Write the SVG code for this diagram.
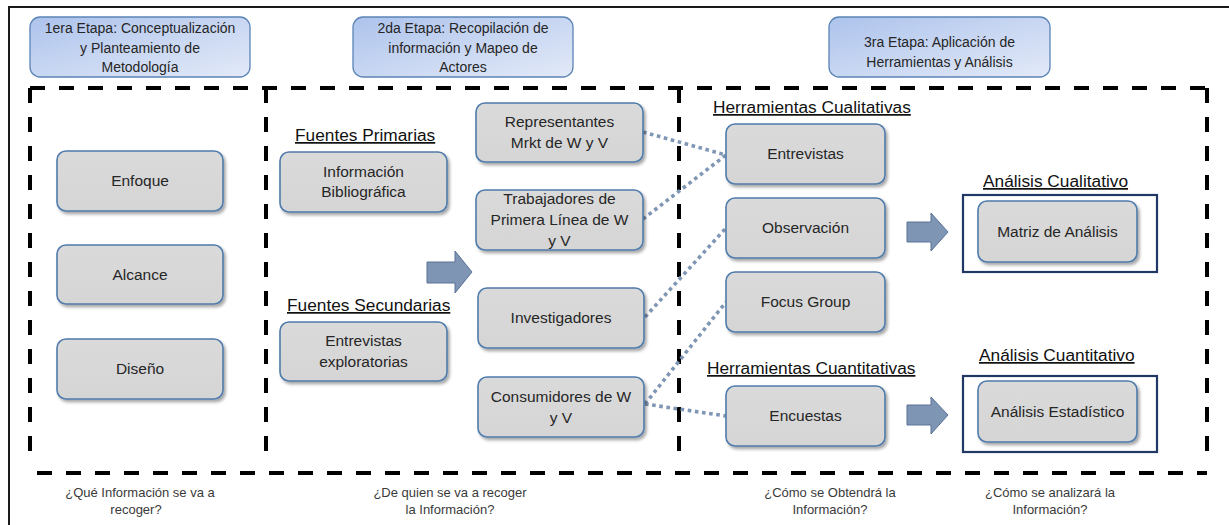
<svg xmlns="http://www.w3.org/2000/svg" width="1229" height="525" viewBox="0 0 1229 525">
  <defs>
    <linearGradient id="stageFill" x1="0" y1="0" x2="1" y2="1">
      <stop offset="0" stop-color="#adc3ec"/>
      <stop offset="1" stop-color="#e3eaf8"/>
    </linearGradient>
    <linearGradient id="nodeFill" x1="0" y1="0" x2="0" y2="1">
      <stop offset="0" stop-color="#dadada"/>
      <stop offset="1" stop-color="#d5d5d5"/>
    </linearGradient>
    <filter id="shadow" x="-10%" y="-15%" width="125%" height="140%">
      <feDropShadow dx="2" dy="2.5" stdDeviation="1.6" flood-color="#000" flood-opacity="0.35"/>
    </filter>
    <style>
      .frame { fill: none; stroke: #1a1a1a; stroke-width: 2; }
      .dash { fill: none; stroke: #000; stroke-width: 4; stroke-dasharray: 15 14; }
      .stage rect { fill: url(#stageFill); stroke: #5b84b6; stroke-width: 1.3; }
      .node rect { fill: url(#nodeFill); stroke: #4f7bab; stroke-width: 1.6; filter: url(#shadow); }
      .group-box { fill: none; stroke: #1f3864; stroke-width: 2.2; }
      text { font-family: "Liberation Sans", Arial, sans-serif; fill: #262626; }
      .stage text { font-size: 14px; text-anchor: middle; }
      .node text { font-size: 15.5px; text-anchor: middle; }
      .title { font-size: 17.3px; fill: #111; text-decoration: underline; }
      .question { font-size: 13px; text-anchor: middle; fill: #3a3a3a; }
      .link { fill: none; stroke: #7f96b4; stroke-width: 3.6; stroke-dasharray: 3.6 3.6; }
      .block-arrow { fill: #7e95b3; stroke: #5a7397; stroke-width: 1; }
    </style>
  </defs>

  <rect width="1229" height="525" fill="#ffffff"/>

  <!-- outer frame -->
  <path class="frame" d="M9,525 V7 H1229"/>

  <!-- dashed stage areas -->
  <g id="stage-areas">
    <line class="dash" x1="30" y1="88" x2="1207" y2="88"/>
    <line class="dash" x1="37" y1="473" x2="1207" y2="473"/>
    <line class="dash" x1="30" y1="88" x2="30" y2="462"/>
    <line class="dash" x1="266" y1="88" x2="266" y2="462"/>
    <line class="dash" x1="679" y1="88" x2="679" y2="462"/>
    <line class="dash" x1="1207" y1="88" x2="1207" y2="462"/>
  </g>

  <!-- stage headers -->
  <g id="stage-1" class="stage">
    <rect x="30" y="17" width="220" height="60" rx="10"/>
    <text x="140" y="33">1era Etapa: Conceptualización</text>
    <text x="140" y="53">y Planteamiento de</text>
    <text x="140" y="72">Metodología</text>
  </g>
  <g id="stage-2" class="stage">
    <rect x="353" y="17" width="220" height="60" rx="10"/>
    <text x="463" y="33">2da Etapa: Recopilación de</text>
    <text x="463" y="53">información y Mapeo de</text>
    <text x="463" y="72">Actores</text>
  </g>
  <g id="stage-3" class="stage">
    <rect x="829" y="17" width="221" height="60" rx="10"/>
    <text x="939.5" y="47">3ra Etapa: Aplicación de</text>
    <text x="939.5" y="67">Herramientas y Análisis</text>
  </g>

  <!-- section titles -->
  <g id="titles">
    <text class="title" x="295" y="141">Fuentes Primarias</text>
    <text class="title" x="287" y="311">Fuentes Secundarias</text>
    <text class="title" x="713" y="113">Herramientas Cualitativas</text>
    <text class="title" x="707" y="374">Herramientas Cuantitativas</text>
    <text class="title" x="983" y="187">Análisis Cualitativo</text>
    <text class="title" x="979" y="361">Análisis Cuantitativo</text>
  </g>

  <!-- analysis group outlines -->
  <rect class="group-box" x="963" y="195" width="194" height="77"/>
  <rect class="group-box" x="963" y="376" width="194" height="76"/>

  <!-- connectors -->
  <g id="connectors">
    <path class="link" d="M643,132 L726,155"/>
    <path class="link" d="M643,219 L726,155"/>
    <path class="link" d="M645,317 L726,228"/>
    <path class="link" d="M645,404 L726,302"/>
    <path class="link" d="M645,404 L726,416"/>
    <path class="block-arrow" d="M427,262 H455 V251 L472,272 L455,293 V283 H427 Z"/>
    <path class="block-arrow" d="M907,222 H931 V213 L948,232 L931,251 V242 H907 Z"/>
    <path class="block-arrow" d="M907,405 H931 V397 L948,415 L931,434 V425 H907 Z"/>
  </g>

  <!-- stage 1 nodes -->
  <g id="enfoque" class="node">
    <rect x="57" y="151" width="166" height="60" rx="9"/>
    <text x="140" y="186">Enfoque</text>
  </g>
  <g id="alcance" class="node">
    <rect x="57" y="245" width="166" height="59" rx="9"/>
    <text x="140" y="280">Alcance</text>
  </g>
  <g id="diseno" class="node">
    <rect x="57" y="339" width="166" height="60" rx="9"/>
    <text x="140" y="374">Diseño</text>
  </g>

  <!-- stage 2 nodes -->
  <g id="informacion-bibliografica" class="node">
    <rect x="280" y="152" width="167" height="60" rx="9"/>
    <text x="363.5" y="177">Información</text>
    <text x="363.5" y="197">Bibliográfica</text>
  </g>
  <g id="entrevistas-exploratorias" class="node">
    <rect x="280" y="322" width="167" height="59" rx="9"/>
    <text x="363.5" y="346">Entrevistas</text>
    <text x="363.5" y="367">exploratorias</text>
  </g>
  <g id="representantes" class="node">
    <rect x="476" y="103" width="167" height="59" rx="9"/>
    <text x="559.5" y="127">Representantes</text>
    <text x="559.5" y="148">Mrkt de W y V</text>
  </g>
  <g id="trabajadores" class="node">
    <rect x="476" y="190" width="167" height="60" rx="9"/>
    <text x="559.5" y="204">Trabajadores de</text>
    <text x="559.5" y="225">Primera Línea de  W</text>
    <text x="559.5" y="246">y V</text>
  </g>
  <g id="investigadores" class="node">
    <rect x="478" y="288" width="166" height="60" rx="9"/>
    <text x="561" y="323">Investigadores</text>
  </g>
  <g id="consumidores" class="node">
    <rect x="478" y="377" width="166" height="60" rx="9"/>
    <text x="561" y="402">Consumidores de W</text>
    <text x="561" y="423">y V</text>
  </g>

  <!-- stage 3 tools -->
  <g id="entrevistas" class="node">
    <rect x="726" y="124" width="159" height="60" rx="9"/>
    <text x="805.5" y="159">Entrevistas</text>
  </g>
  <g id="observacion" class="node">
    <rect x="726" y="198" width="159" height="60" rx="9"/>
    <text x="805.5" y="233">Observación</text>
  </g>
  <g id="focus-group" class="node">
    <rect x="726" y="272" width="159" height="60" rx="9"/>
    <text x="805.5" y="307">Focus Group</text>
  </g>
  <g id="encuestas" class="node">
    <rect x="726" y="386" width="159" height="60" rx="9"/>
    <text x="805.5" y="421">Encuestas</text>
  </g>

  <!-- analysis nodes -->
  <g id="matriz-analisis" class="node">
    <rect x="978" y="201" width="159" height="61" rx="9"/>
    <text x="1057.5" y="237">Matriz de Análisis</text>
  </g>
  <g id="analisis-estadistico" class="node">
    <rect x="978" y="381" width="159" height="61" rx="9"/>
    <text x="1057.5" y="417">Análisis Estadístico</text>
  </g>

  <!-- guiding questions -->
  <g id="questions">
    <text class="question" x="140" y="497">¿Qué Información se va a</text>
    <text class="question" x="136" y="514">recoger?</text>
    <text class="question" x="450" y="497">¿De quien se va a recoger</text>
    <text class="question" x="450" y="514">la Información?</text>
    <text class="question" x="830" y="497">¿Cómo se Obtendrá la</text>
    <text class="question" x="830" y="514">Información?</text>
    <text class="question" x="1050" y="497">¿Cómo se analizará la</text>
    <text class="question" x="1050" y="514">Información?</text>
  </g>
</svg>
